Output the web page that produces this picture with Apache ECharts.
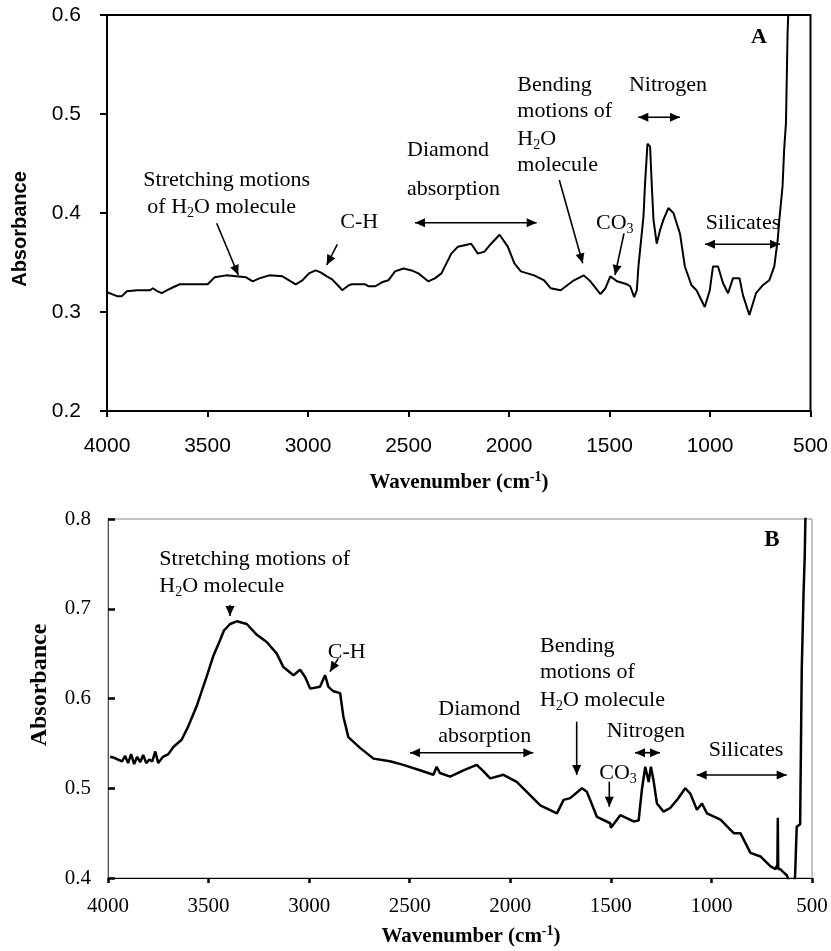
<!DOCTYPE html>
<html>
<head>
<meta charset="utf-8">
<script src="https://cdn.jsdelivr.net/npm/echarts@6/dist/echarts.min.js"></script>
<style>html,body{margin:0;padding:0;background:#fff}#c{width:831px;height:951px}</style>
</head>
<body>
<div id="c"></div>
<script>
// ---------- Data ----------
const wnA = [4000,3975,3950,3926,3901,3850,3786,3771,3750,3728,3700,3671,3638,3560,3499,3465,3407,3357,3308,3275,3242,3193,3127,3094,3061,3028,2995,2962,2937,2906,2880,2847,2830,2797,2781,2715,2698,2665,2632,2600,2567,2525,2484,2451,2402,2369,2336,2287,2254,2188,2155,2122,2089,2047,2006,1973,1941,1875,1825,1793,1743,1677,1628,1595,1545,1520,1496,1463,1413,1397,1377,1364,1356,1331,1323,1311,1298,1290,1281,1265,1248,1232,1207,1182,1149,1125,1092,1067,1026,1001,985,960,935,910,886,853,836,804,771,738,705,680,663,655,639,631,622,614,600];
const absA = [0.320,0.318,0.316,0.316,0.321,0.322,0.322,0.324,0.321,0.319,0.322,0.325,0.328,0.328,0.328,0.335,0.337,0.336,0.335,0.331,0.334,0.337,0.336,0.332,0.328,0.332,0.339,0.342,0.340,0.336,0.333,0.326,0.322,0.327,0.328,0.328,0.326,0.326,0.330,0.332,0.341,0.344,0.342,0.339,0.331,0.334,0.339,0.359,0.366,0.369,0.359,0.361,0.369,0.378,0.366,0.349,0.341,0.337,0.332,0.324,0.322,0.332,0.337,0.331,0.318,0.324,0.336,0.331,0.328,0.326,0.315,0.322,0.346,0.396,0.430,0.470,0.467,0.430,0.393,0.369,0.383,0.393,0.405,0.400,0.379,0.346,0.327,0.322,0.305,0.322,0.346,0.346,0.329,0.319,0.334,0.334,0.317,0.297,0.319,0.327,0.332,0.346,0.373,0.393,0.427,0.464,0.491,0.581,0.660];

const wnB = [3990,3970,3950,3930,3915,3900,3885,3870,3855,3840,3825,3810,3795,3780,3765,3750,3727,3700,3675,3634,3601,3560,3510,3477,3443,3423,3393,3360,3310,3260,3211,3161,3128,3078,3045,3020,2995,2946,2921,2904,2879,2846,2830,2805,2747,2680,2598,2532,2449,2382,2366,2350,2299,2233,2167,2134,2100,2034,1968,1918,1851,1768,1735,1702,1644,1619,1569,1503,1500,1453,1387,1362,1346,1329,1312,1301,1288,1271,1238,1205,1171,1130,1105,1072,1047,1022,955,889,856,806,756,706,681,672,670,668,658,640,625,617,600,588,584,576,559,551,542,536,528];
const absB = [0.535,0.534,0.532,0.530,0.536,0.528,0.538,0.527,0.535,0.529,0.537,0.528,0.532,0.530,0.541,0.528,0.535,0.538,0.546,0.554,0.569,0.591,0.624,0.647,0.665,0.676,0.683,0.686,0.683,0.671,0.663,0.650,0.635,0.626,0.632,0.624,0.611,0.613,0.626,0.613,0.608,0.606,0.580,0.557,0.545,0.533,0.530,0.526,0.520,0.515,0.524,0.517,0.513,0.520,0.526,0.519,0.511,0.515,0.507,0.496,0.481,0.472,0.487,0.489,0.500,0.496,0.468,0.461,0.456,0.470,0.463,0.464,0.498,0.524,0.507,0.524,0.509,0.483,0.474,0.478,0.487,0.500,0.494,0.476,0.483,0.472,0.465,0.450,0.450,0.428,0.424,0.413,0.410,0.415,0.467,0.410,0.410,0.406,0.403,0.398,0.390,0.395,0.403,0.457,0.460,0.632,0.717,0.760,0.860];

const xTicks = [4000,3500,3000,2500,2000,1500,1000,500];
const yTicksA = [0.2,0.3,0.4,0.5,0.6];
const yTicksB = [0.4,0.5,0.6,0.7,0.8];

// ---------- helpers ----------
const SERIF = '"Liberation Serif","Times New Roman",serif';
const SANS = '"Liberation Sans",Arial,sans-serif';
const zip = (a, b) => a.map((v, i) => [v, b[i]]);

function head(x1, y1, x2, y2) {
  const L = 10, W = 4.5;
  const dx = x2 - x1, dy = y2 - y1, len = Math.hypot(dx, dy);
  const ux = dx / len, uy = dy / len;
  const bx = x2 - ux * L, by = y2 - uy * L;
  return { type: 'polygon', shape: { points: [[x2, y2], [bx - uy * W, by + ux * W], [bx + uy * W, by - ux * W]] }, style: { fill: '#000' } };
}
function arrow(x1, y1, x2, y2, both) {
  const els = [{ type: 'line', shape: { x1, y1, x2, y2 }, style: { stroke: '#000', lineWidth: 1.6 } }, head(x1, y1, x2, y2)];
  if (both) els.push(head(x2, y2, x1, y1));
  return els;
}
const richBase = (fs) => ({
  n: { fontSize: fs, fontFamily: SERIF, lineHeight: 26, fill: '#000' },
  s: { fontSize: Math.round(fs * 0.65), fontFamily: SERIF, lineHeight: 12, verticalAlign: 'bottom', fill: '#000' },
  p: { fontSize: Math.round(fs * 0.65), fontFamily: SERIF, lineHeight: 12, verticalAlign: 'top', fill: '#000' },
  bn: { fontSize: fs, fontFamily: SERIF, fontWeight: 'bold', lineHeight: 26, fill: '#000' },
  bp: { fontSize: Math.round(fs * 0.65), fontFamily: SERIF, fontWeight: 'bold', lineHeight: 12, verticalAlign: 'top', fill: '#000' }
});
function txt(x, y, text, align, fs) {
  fs = fs || 22;
  return { type: 'text', x, y, style: { text, rich: richBase(fs), align: align || 'center', verticalAlign: 'middle', fontSize: fs, fontFamily: SERIF, fill: '#000' } };
}
function plain(x, y, text, font, fs, weight, rot) {
  return { type: 'text', x, y, rotation: rot || 0, style: { text, fontSize: fs, fontFamily: font, fontWeight: weight || 'normal', fill: '#000', align: 'center', verticalAlign: 'middle' } };
}

const graphics = [].concat(
  // ---- Chart A annotations ----
  txt(226.7, 180, '{n|Stretching motions}'),
  txt(221.7, 207, '{n|of H}{s|2}{n|O molecule}'),
  arrow(216.7, 223.3, 238.3, 275),
  txt(359.3, 222.7, '{n|C-H}'),
  arrow(337.3, 244.3, 326.7, 265),
  txt(407, 150, '{n|Diamond}', 'left'),
  txt(407, 189.3, '{n|absorption}', 'left'),
  arrow(415, 222.7, 536.7, 222.7, true),
  txt(517.3, 85, '{n|Bending}', 'left'),
  txt(517.3, 111.7, '{n|motions of}', 'left'),
  txt(517.3, 139.3, '{n|H}{s|2}{n|O}', 'left'),
  txt(517.3, 165, '{n|molecule}', 'left'),
  arrow(559.3, 180, 582.7, 263.3),
  txt(596, 223.3, '{n|CO}{s|3}', 'left'),
  arrow(624, 233.3, 615, 275),
  txt(668, 85, '{n|Nitrogen}'),
  arrow(638.3, 117.3, 680, 117.3, true),
  txt(743, 223.3, '{n|Silicates}'),
  arrow(705, 244.3, 780, 244.3, true),
  txt(759, 37, '{bn|A}'),
  plain(20, 229, 'Absorbance', SANS, 20, 'bold', Math.PI / 2),
  txt(459, 483, '{bn|Wavenumber (cm}{bp|-1}{bn|)}', 'center', 21),
  // ---- Chart B annotations ----
  txt(159.3, 559.3, '{n|Stretching motions of}', 'left'),
  txt(159.3, 586.7, '{n|H}{s|2}{n|O molecule}', 'left'),
  arrow(230, 605, 230, 616),
  txt(346.7, 652.7, '{n|C-H}'),
  arrow(338.3, 658.3, 330, 671.7),
  txt(438.3, 709.3, '{n|Diamond}', 'left'),
  txt(438.3, 736.7, '{n|absorption}', 'left'),
  arrow(410, 752.7, 533.3, 752.7, true),
  txt(540, 646.7, '{n|Bending}', 'left'),
  txt(540, 672.7, '{n|motions of}', 'left'),
  txt(540, 700, '{n|H}{s|2}{n|O molecule}', 'left'),
  arrow(576.7, 721.7, 576.7, 775),
  txt(599.3, 773.3, '{n|CO}{s|3}', 'left'),
  arrow(609.3, 781.7, 609.3, 806.7),
  txt(645.8, 731.7, '{n|Nitrogen}'),
  arrow(635, 752.7, 660, 752.7, true),
  txt(746, 750.7, '{n|Silicates}'),
  arrow(696.7, 775, 786.7, 775, true),
  txt(772, 540, '{bn|B}', 'center', 23),
  plain(40, 685, 'Absorbance', SERIF, 24, 'bold', Math.PI / 2),
  txt(471, 937, '{bn|Wavenumber (cm}{bp|-1}{bn|)}', 'center', 21)
);

const chart = echarts.init(document.getElementById('c'));
chart.setOption({
  animation: false,
  backgroundColor: '#fff',
  grid: [
    { left: 107, top: 15, width: 707, height: 396, show: true, borderColor: '#000', borderWidth: 2, backgroundColor: 'transparent' },
    { left: 108, top: 519, width: 704, height: 359, show: true, borderColor: '#888', borderWidth: 1, backgroundColor: 'transparent' }
  ],
  xAxis: [
    { gridIndex: 0, type: 'value', min: 500, max: 4000, interval: 500, inverse: true,
      axisLine: { show: true, onZero: false, lineStyle: { color: '#000', width: 2 } },
      axisTick: { show: true, inside: false, length: 6, lineStyle: { color: '#000', width: 2 } },
      axisLabel: { margin: 25, fontSize: 21, fontFamily: SANS, color: '#000', formatter: v => String(v) },
      splitLine: { show: false } },
    { gridIndex: 1, type: 'value', min: 500, max: 4000, interval: 500, inverse: true,
      axisLine: { show: true, onZero: false, lineStyle: { color: '#000', width: 1.2 } },
      axisTick: { show: true, inside: false, length: 5, lineStyle: { color: '#000', width: 2.5 } },
      axisLabel: { margin: 18, fontSize: 21, fontFamily: SERIF, color: '#000', formatter: v => String(v) },
      splitLine: { show: false } }
  ],
  yAxis: [
    { gridIndex: 0, type: 'value', min: yTicksA[0], max: yTicksA[yTicksA.length - 1], interval: 0.1,
      axisLine: { show: true, onZero: false, lineStyle: { color: '#000', width: 2 } },
      axisTick: { show: true, inside: false, length: 7, lineStyle: { color: '#000', width: 2 } },
      axisLabel: { margin: 26, fontSize: 21, fontFamily: SANS, color: '#000', formatter: v => v.toFixed(1) },
      splitLine: { show: false } },
    { gridIndex: 1, type: 'value', min: yTicksB[0], max: yTicksB[yTicksB.length - 1], interval: 0.1,
      axisLine: { show: true, onZero: false, lineStyle: { color: '#555', width: 1 } },
      axisTick: { show: true, inside: true, length: 7, lineStyle: { color: '#000', width: 2.5 } },
      axisLabel: { margin: 17, fontSize: 21, fontFamily: SERIF, color: '#000', formatter: v => v.toFixed(1) },
      splitLine: { show: false } }
  ],
  series: [
    { type: 'line', xAxisIndex: 0, yAxisIndex: 0, data: zip(wnA, absA), showSymbol: false, clip: true,
      lineStyle: { color: '#000', width: 2 } },
    { type: 'line', xAxisIndex: 1, yAxisIndex: 1, data: zip(wnB, absB), showSymbol: false, clip: true,
      lineStyle: { color: '#000', width: 2.5 } }
  ],
  graphic: graphics
});
</script>
</body>
</html>
